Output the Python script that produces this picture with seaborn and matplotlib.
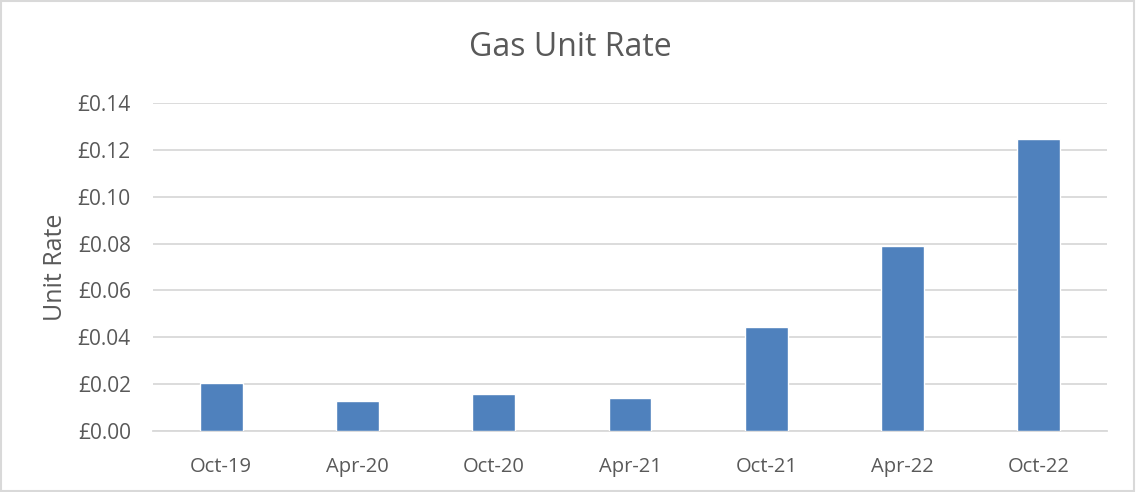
import matplotlib
matplotlib.use("Agg")
import matplotlib.pyplot as plt
from matplotlib.patches import Rectangle
from matplotlib.ticker import FuncFormatter
import seaborn as sns
import pandas as pd

sns.set_theme(style="white")
plt.rcParams["font.family"] = ["Open Sans", "DejaVu Sans"]

# data
periods = ["Oct-19", "Apr-20", "Oct-20", "Apr-21", "Oct-21", "Apr-22", "Oct-22"]
unit_rate = [0.0203, 0.0127, 0.0157, 0.0141, 0.0444, 0.0789, 0.1247]
y_ticks = [0.00, 0.02, 0.04, 0.06, 0.08, 0.10, 0.12, 0.14]

df = pd.DataFrame({"Period": periods, "Unit Rate": unit_rate})

text_col = "#595959"
grid_col = "#d9d9d9"

fig = plt.figure(figsize=(11.36, 4.92), dpi=100)
ax = fig.add_axes([0.1347, 0.1240, 0.8398, 0.6667])

sns.barplot(data=df, x="Period", y="Unit Rate", color="#4f81bd",
            width=0.315, saturation=1, ax=ax, zorder=3)

ax.set_ylim(0, 0.14)
ax.set_xlim(-0.5, len(periods) - 0.5)
ax.set_yticks(y_ticks)
ax.yaxis.set_major_formatter(FuncFormatter(lambda v, p: f"£{v:.2f}"))
ax.grid(axis="y", color=grid_col, linewidth=1.3, zorder=0)

for s in ["top", "right", "left"]:
    ax.spines[s].set_visible(False)
ax.spines["bottom"].set_color(grid_col)
ax.spines["bottom"].set_linewidth(1.3)

# category boundary ticks like Excel
ax.set_xticks([i - 0.5 for i in range(len(periods) + 1)], minor=True)
ax.tick_params(axis="x", which="minor", length=6, width=1.3, color=grid_col, direction="out")
ax.tick_params(axis="x", which="major", length=0, pad=18.5, labelsize=14.5, labelcolor=text_col)
ax.tick_params(axis="y", length=0, pad=16, labelsize=15, labelcolor=text_col)

ax.set_xlabel("")
ax.set_ylabel("Unit Rate", fontsize=18, color=text_col, labelpad=7)
fig.text(0.502, 0.904, "Gas Unit Rate", ha="center", va="center",
         fontsize=23, color=text_col)

fig.patches.append(Rectangle((0.001, 0.002), 0.997, 0.995, transform=fig.transFigure,
                             fill=False, edgecolor=grid_col, linewidth=1.5))

fig.savefig("out.png", dpi=100)
